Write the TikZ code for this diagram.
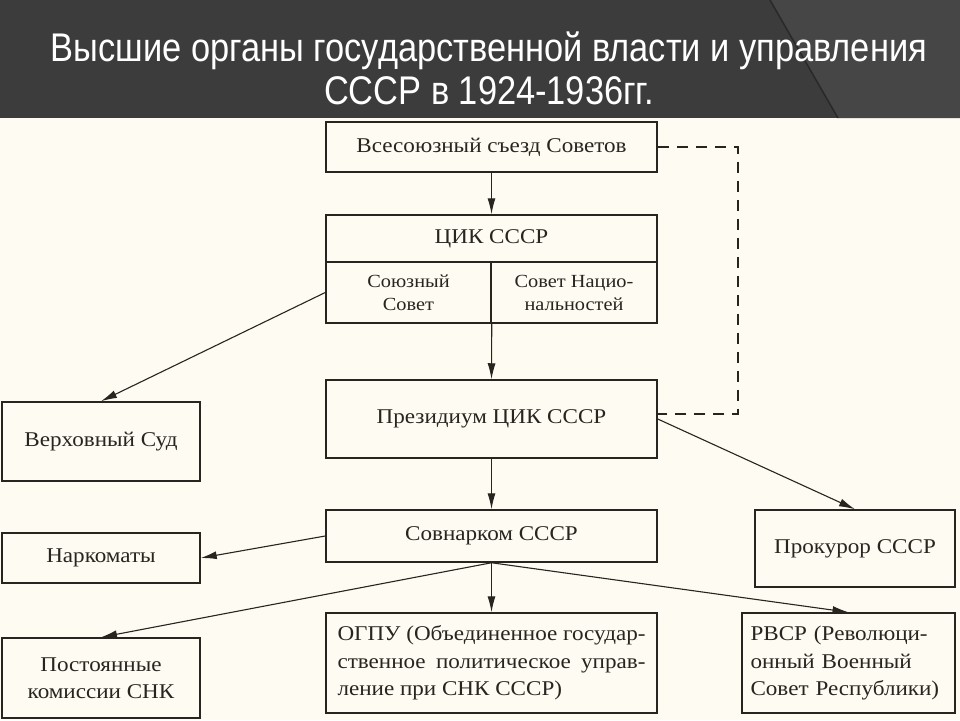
\documentclass[tikz,border=0pt]{standalone}
\usepackage{fontspec}
\setmainfont[FakeStretch=1.1]{Liberation Serif}
\newfontfamily\titlefont[FakeStretch=0.86]{Liberation Sans}
\usetikzlibrary{arrows.meta,calc}

\definecolor{paper}{RGB}{253,251,242}
\definecolor{barcol}{RGB}{60,60,60}
\definecolor{ink}{RGB}{40,36,32}

\tikzset{
  organ/.style={draw=ink, line width=1.5pt, align=center, inner sep=0pt,
    font=\fontsize{21}{27.5}\selectfont, text=ink},
  chamber/.style={organ, font=\fontsize{18.5}{23}\selectfont},
  link/.style={draw=ink, line width=1.1pt, -{Latex[length=16pt,width=8pt]}},
}

\begin{document}
\begin{tikzpicture}[x=1pt,y=-1pt]
\fill[paper] (0,0) rectangle (960,720);
\useasboundingbox (0,0) rectangle (960,720);
% title bar
\fill[barcol] (0,0) rectangle (960,118);
\fill[barcol!95!white] (770,0) -- (838,118) -- (960,118) -- (960,0) -- cycle;
\draw[black!70!barcol, line width=1.5pt, opacity=0.5] (770,0) -- (838,118);
\node[text=white, font=\titlefont\fontsize{40}{43}\selectfont, align=center] (title) at (489,68)
  {Высшие органы государственной власти и управления\\СССР в 1924-1936гг.};

% boxes
\node[organ, minimum width=331pt, minimum height=50pt] (congress) at (491.5,147) {Всесоюзный съезд Советов};
\node[organ, minimum width=331pt, minimum height=47pt] (cik) at (491.5,238.5) {ЦИК СССР};
\node[chamber, minimum width=165pt, minimum height=61pt] (sojuz) at (408.5,292.5) {Союзный\\Совет};
\node[chamber, minimum width=166pt, minimum height=61pt] (nacsovet) at (574,292.5) {Совет Нацио-\\нальностей};
\node[organ, minimum width=331pt, minimum height=78pt] (presid) at (491.5,419) {Президиум ЦИК СССР};
\node[organ, minimum width=198pt, minimum height=79pt] (court) at (101,441.5) {Верховный Суд};
\node[organ, minimum width=331pt, minimum height=52pt] (sovnarkom) at (491.5,536) {Совнарком СССР};
\node[organ, minimum width=198pt, minimum height=50pt] (narkom) at (101,558) {Наркоматы};
\node[organ, minimum width=200pt, minimum height=77pt] (prokuror) at (855,548.5) {Прокурор СССР};
\node[organ, minimum width=198pt, minimum height=80pt] (comm) at (101,678) {Постоянные\\комиссии СНК};
\node[organ, minimum width=331pt, minimum height=100pt, align=left] (ogpu) at (491.5,663)
  {\makebox[308pt][s]{ОГПУ (Объединенное государ-}\\
   \makebox[308pt][s]{ственное политическое управ-}\\
   ление при СНК СССР)\hfill\hbox{}};
\node[organ, minimum width=213pt, minimum height=100pt, align=left, text width=196pt] (rvsr) at (848.5,663)
  {РВСР (Революци-\\онный Военный\\Совет Республики)};

% connectors
\draw[link] (congress.south) -- (cik.north);
\draw[link] (sojuz.south east) -- (presid.north);
\draw[link] (sojuz.west) -- (court.north);
\draw[link] (presid.south) -- (sovnarkom.north);
\draw[link] (presid.east) -- (prokuror.north);
\draw[link] (sovnarkom.west) -- (narkom.east);
\draw[link] (sovnarkom.south) -- (ogpu.north);
\draw[link] (sovnarkom.south) -- (comm.north);
\draw[link] (sovnarkom.south) -- (rvsr.north);
\draw[draw=ink, line width=1.3pt, dash pattern=on 11pt off 8pt]
  (congress.east) -- (738,147) |- ([yshift=5pt]presid.east);
\end{tikzpicture}
\end{document}
